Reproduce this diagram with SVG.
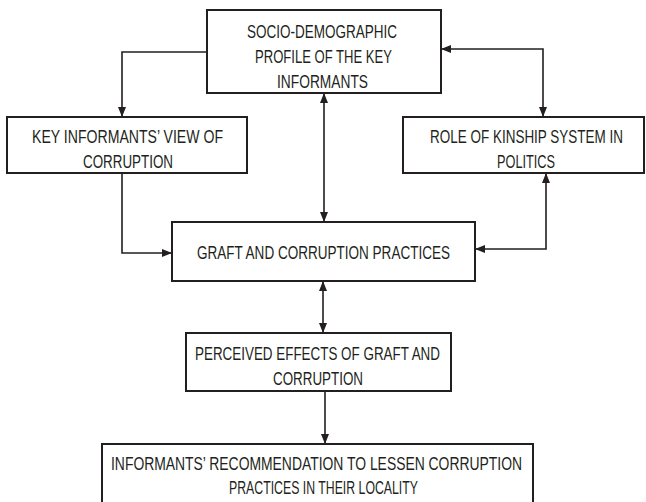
<svg xmlns="http://www.w3.org/2000/svg" width="646" height="502" viewBox="0 0 646 502">
<defs>
<style>
.box{fill:#ffffff;stroke:#231f20;stroke-width:2}
.lbl{font-family:"Liberation Sans","DejaVu Sans Condensed",sans-serif;font-size:18px;fill:#231f20;text-anchor:middle}
.sm{font-size:14.5px}
.con{fill:none;stroke:#231f20;stroke-width:1.6}
</style>
<marker id="ah" viewBox="0 0 10 8" refX="10" refY="4" markerWidth="10" markerHeight="8" markerUnits="userSpaceOnUse" orient="auto-start-reverse">
<path d="M0,0 L10,4 L0,8 z" fill="#231f20"/>
</marker>
</defs>
<rect width="646" height="502" fill="#ffffff"/>
<g id="connectors">
<path class="con" d="M207,52 H122 V117" marker-end="url(#ah)"/>
<path class="con" d="M441,49 H543 V117" marker-start="url(#ah)" marker-end="url(#ah)"/>
<path class="con" d="M324,93 V222" marker-start="url(#ah)" marker-end="url(#ah)"/>
<path class="con" d="M122,173 V253 H172" marker-end="url(#ah)"/>
<path class="con" d="M546,173 V249 H475" marker-start="url(#ah)" marker-end="url(#ah)"/>
<path class="con" d="M323,281 V333" marker-start="url(#ah)" marker-end="url(#ah)"/>
<path class="con" d="M325,391 V444" marker-end="url(#ah)"/>
</g>
<g id="socio">
<rect class="box" x="207" y="10" width="234" height="83"/>
<text class="lbl" x="322" y="38" textLength="150" lengthAdjust="spacingAndGlyphs">SOCIO-DEMOGRAPHIC</text>
<text class="lbl" x="323.5" y="63" textLength="137" lengthAdjust="spacingAndGlyphs">PROFILE OF THE KEY</text>
<text class="lbl" x="322.5" y="88" textLength="91" lengthAdjust="spacingAndGlyphs">INFORMANTS</text>
</g>
<g id="view">
<rect class="box" x="7" y="117" width="240" height="56"/>
<text class="lbl" x="127.5" y="143" textLength="191" lengthAdjust="spacingAndGlyphs">KEY INFORMANTS’ VIEW OF</text>
<text class="lbl" x="128" y="168" textLength="90" lengthAdjust="spacingAndGlyphs">CORRUPTION</text>
</g>
<g id="kinship">
<rect class="box" x="403" y="117" width="241" height="56"/>
<text class="lbl sm" transform="translate(526.5,143) scale(1,1.24)" x="0" y="0" textLength="193" lengthAdjust="spacingAndGlyphs">ROLE OF KINSHIP SYSTEM IN</text>
<text class="lbl" x="526" y="168" textLength="58" lengthAdjust="spacingAndGlyphs">POLITICS</text>
</g>
<g id="graft">
<rect class="box" x="172" y="222" width="303" height="59"/>
<text class="lbl" x="323.5" y="259" textLength="253" lengthAdjust="spacingAndGlyphs">GRAFT AND CORRUPTION PRACTICES</text>
</g>
<g id="effects">
<rect class="box" x="186" y="333" width="265" height="58"/>
<text class="lbl" x="317.5" y="360" textLength="245" lengthAdjust="spacingAndGlyphs">PERCEIVED EFFECTS OF GRAFT AND</text>
<text class="lbl" x="318" y="385" textLength="90" lengthAdjust="spacingAndGlyphs">CORRUPTION</text>
</g>
<g id="recommendation">
<rect class="box" x="102" y="444" width="431" height="70"/>
<text class="lbl" x="316.5" y="470" textLength="411" lengthAdjust="spacingAndGlyphs">INFORMANTS’ RECOMMENDATION TO LESSEN CORRUPTION</text>
<text class="lbl" x="323.5" y="494" textLength="189" lengthAdjust="spacingAndGlyphs">PRACTICES IN THEIR LOCALITY</text>
</g>
</svg>
